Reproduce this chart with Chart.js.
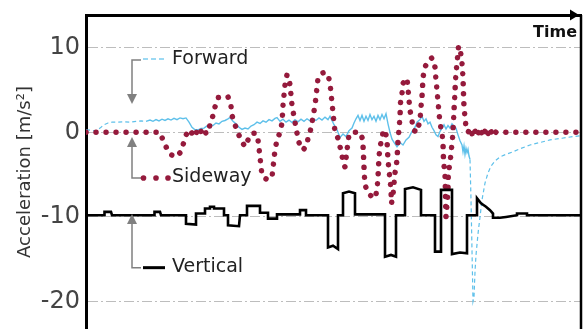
<!DOCTYPE html>
<html>
<head>
<meta charset="utf-8">
<script src="https://cdn.jsdelivr.net/npm/chart.js@4"></script>
<style>
html, body { margin: 0; padding: 0; background: #fff; }
canvas { display: block; }
</style>
</head>
<body>
<canvas id="chart" width="584" height="329" style="width:584px;height:329px"></canvas>
<script>
// Acceleration record: three channels sampled over one run (time axis in arbitrary units)
const yTickValues = [10, 0, -10, -20];

const forwardTime = [0, 5, 10, 14, 18, 22, 26, 32, 38, 44, 50, 55, 60, 64, 67, 70, 73, 76, 79, 82, 85, 88, 91, 94, 97, 100,
  103, 106, 109, 112, 115, 118, 121, 124, 127, 130, 133, 136, 139, 142, 144, 147, 150, 153, 156, 159, 162, 165, 168, 171,
  174, 177, 180, 183, 186, 189, 191, 194, 197, 200, 203, 206, 209, 212, 215, 218, 221, 224, 227, 230, 233, 236, 239, 242,
  244, 246, 248, 251, 254, 257, 260, 263, 266, 268, 270, 272, 274, 276, 278, 280, 282, 284, 286, 288, 290, 292, 294, 296,
  298, 300, 302, 304, 306, 308, 311, 314, 317, 320, 323, 326, 329, 331, 334, 336, 338, 340, 342, 344, 346, 348, 350, 352,
  354, 356, 358, 360, 362, 364, 366, 368, 370, 372, 374, 376, 377, 378, 379, 380, 381, 382, 383, 384, 385, 386, 387, 388,
  389, 390, 392, 394, 396, 399, 402, 405, 409, 414, 420, 427, 435, 444, 454, 464, 476, 487, 495];
const forwardAccel = [0.3, 0.25, 0.15, 0.5, 0.9, 1.1, 1.2, 1.2, 1.25, 1.2, 1.3, 1.35, 1.3, 1.45, 1.3, 1.5, 1.35, 1.55, 1.4, 1.6, 1.45, 1.65, 1.5, 1.7, 1.6, 1.7,
  1.2, 0.6, 0.3, 0.3, 0.45, 0.5, 0.75, 0.9, 0.8, 1.1, 1.0, 1.3, 1.4, 1.6, 1.75, 1.3, 1.0, 0.6, 0.35, 0.5, 0.4, 0.75, 0.9, 1.2,
  1.05, 1.35, 1.2, 1.5, 1.35, 1.65, 1.75, 1.3, 1.55, 1.2, 1.45, 1.15, 1.5, 1.25, 1.55, 1.3, 1.6, 1.35, 1.65, 1.4, 1.7, 1.45, 1.8, 1.5,
  1.9, 1.4, 0.9, 0.3, -0.6, -0.2, -0.5, 0.2, 0.5, 1.1, 1.6, 2.0, 1.4, 2.0, 1.3, 1.9, 1.4, 2.1, 1.5, 1.9, 1.3, 2.0, 1.5, 2.1,
  1.6, 2.2, 1.0, 0.0, -0.8, -1.2, -1.7, -1.2, -1.5, -0.9, -0.6, 0.1, 0.6, 1.2, 1.5, 1.9, 1.3, 1.6, 1.0, 1.2, 0.6, 0.2, -0.3, -0.5,
  0.1, 0.5, 0.9, 0.4, 0.8, 0.5, 1.0, 0.7, 0.5, -0.3, -1.0, -1.5, -2.3, -1.6, -2.6, -1.9, -2.4, -2.0, -2.8, -3.2, -8, -14, -20.0, -19.5,
  -16.5, -14.5, -12.0, -10.0, -8.0, -6.0, -4.8, -4.0, -3.4, -2.9, -2.6, -2.3, -1.9, -1.5, -1.2, -0.9, -0.7, -0.5, -0.4];

const sidewayTime = [0, 10, 20, 30, 40, 50, 60, 70, 74, 77, 80, 84, 90, 95, 97, 100, 102,
  103, 104, 105, 106, 107, 108, 109, 110, 111, 112, 113, 114, 115, 116, 117, 118, 119, 120, 121, 122,
  124, 127, 129, 132, 137, 142, 145, 146, 149, 152, 156, 159, 162, 166, 170, 172, 173, 174, 175, 176, 178, 182, 186, 187,
  189, 191, 194, 196, 197, 198, 199, 201, 203, 204, 205, 206, 209, 211, 212, 214, 217, 221, 222, 224, 226, 229, 230, 231,
  232, 236, 239, 242, 244, 245, 246, 247, 248, 249, 252, 254, 256, 257, 259, 261, 263, 266, 274, 276, 277, 277.5, 278,
  278.5, 279, 282, 286, 289, 291, 292, 292.5, 293, 294, 296, 297, 299, 301, 301.5, 302, 303, 304, 305, 305.5, 307, 309,
  311, 311.5, 312, 313, 314, 314.5, 316, 317, 321, 322, 323, 324, 326, 327, 331, 334, 335, 336, 336.5, 337, 339, 342, 346,
  349, 350, 351, 352, 353, 354, 356, 357, 357.3, 357.6, 359, 359.3, 359.6, 360, 361, 362, 362.3, 364, 365, 366, 367, 367.3,
  368, 368.3, 369, 369.3, 370, 371, 372, 372.5, 374, 375, 376, 377, 377.3, 377.6, 378, 379, 380, 382,
  383, 384, 385, 386, 387, 388, 389, 390, 391, 392, 393, 394, 395, 396, 397, 398, 399, 400, 401, 402, 403, 404, 405, 406,
  407, 408, 409, 410, 420, 430, 440, 450, 460, 470, 480, 490, 495];
const sidewayAccel = [0, 0, 0, 0, 0, 0, 0, 0, 0, -0.9, -1.7, -2.6, -2.9, -2.3, -1.5, -0.3, 0,
  0.12, -0.1, 0.12, -0.12, 0.1, -0.12, 0.12, -0.1, 0.12, -0.12, 0.1, -0.12, 0.12, -0.1, 0.12, -0.12, 0.1, -0.1, 0.08, 0,
  0.9, 2.0, 3.0, 4.1, 4.2, 4.2, 3.1, 2.0, 0.9, -0.1, -1.1, -1.7, -0.9, -0.1, -0.1, -0.9, -1.9, -2.9, -4.1, -5.0, -5.4, -5.6, -5.3, -4.2,
  -2.1, -0.9, 0.0, 1.1, 3.2, 4.4, 5.6, 6.8, 6.4, 5.6, 4.4, 3.2, 1.2, -0.1, -0.9, -1.5, -2.1, -1.5, -0.7, 0.0, 1.1, 3.2, 4.2, 5.3,
  6.4, 7.0, 7.1, 6.8, 5.8, 4.6, 3.5, 2.3, 1.2, 0.0, -0.7, -1.7, -2.7, -3.6, -4.1, -2.1, -0.3, 0, 0, -0.6, -1.5, -2.7, -4.1,
  -5.3, -6.2, -7.2, -7.6, -7.8, -6.8, -5.3, -4.1, -2.9, -1.7, -0.7, 0, 0.3, -0.9, -2.1, -3.3, -4.5, -5.6, -6.8, -8.4, -7.4, -4.8,
  -3.3, -2.1, -0.9, 0.3, 1.8, 3.5, 4.6, 5.8, 6.4, 5.2, 3.8, 2.6, 1.4, 0.3, 0, 1.4, 3.0, 4.2, 5.3, 6.5, 7.7, 8.5, 8.8,
  7.7, 6.2, 5.0, 3.6, 2.3, 1.1, -0.1, -1.3, -2.5, -3.6, -4.8, -6.2, -8.0, -10.0, -8.6, -6.8, -4.8, -3.6, -2.5, -1.3, -0.1, 1.1,
  2.3, 3.5, 4.6, 5.8, 7.0, 8.2, 9.4, 10.2, 10.0, 9.1, 8.2, 6.5, 5.3, 4.2, 3.0, 1.8, 0.6, 0,
  0.18, -0.16, 0.18, -0.18, 0.16, -0.18, 0.18, -0.16, 0.18, -0.18, 0.16, -0.18, 0.18, -0.16, 0.18, -0.18, 0.16, -0.18, 0.18, -0.16, 0.18, -0.18, 0.16, -0.16,
  0.14, -0.12, 0.08, 0, 0, 0, 0, 0, 0, 0, 0, 0, 0];

const verticalTime = [0, 18, 18.5, 25, 26, 68, 68.5, 74, 75, 100, 100, 110, 110, 119, 119, 124, 124, 128, 128, 138, 138, 142, 142,
  153, 154, 161, 161, 174, 174, 182, 182, 191, 191, 214, 214, 220, 220, 242, 242, 247, 252, 252, 257, 257, 263, 269, 269, 299, 299,
  305, 310, 310, 319, 319, 327, 335, 335, 349, 349, 355, 355, 366, 366, 374, 381, 381, 391, 391, 395, 400, 404, 407, 407, 414,
  420, 431, 431, 441, 441, 495];
const verticalAccel = [-9.8, -9.8, -9.4, -9.4, -9.8, -9.8, -9.4, -9.4, -9.8, -9.8, -10.8, -10.9, -9.6, -9.6, -9.0, -9.0, -8.8, -8.8, -9.0, -9.0, -9.8, -9.8, -11.0,
  -11.1, -9.8, -9.8, -8.7, -8.7, -9.5, -9.5, -10.2, -10.2, -9.7, -9.7, -9.2, -9.2, -9.8, -9.8, -13.6, -13.4, -13.8, -9.8, -9.8, -7.2, -7.0, -7.2, -9.7, -9.7, -14.7,
  -14.5, -14.7, -9.8, -9.8, -6.7, -6.5, -6.8, -9.8, -9.8, -14.1, -14.1, -6.8, -6.8, -14.4, -14.2, -14.3, -9.8, -9.8, -7.8, -8.4, -8.8, -9.2, -9.6, -10.1, -10.1,
  -10.0, -9.8, -9.6, -9.6, -9.8, -9.8];

// Key entries drawn beside the left axis (values in data units)
const keyItems = [
  { label: 'Forward', dir: 'down', elbow: 8.55, tip: 3.35, sample: 'dash' },
  { label: 'Sideway', dir: 'up', elbow: -5.4, tip: -0.56, sample: 'dots' },
  { label: 'Vertical', dir: 'up', elbow: -16.0, tip: -9.66, sample: 'line' }
];
const keyTime = 46;

const toPoints = (xs, ys) => xs.map((x, i) => ({ x, y: ys[i] }));

const FONT = '"DejaVu Sans", "Liberation Sans", sans-serif';
const FORWARD_COLOR = '#5ec0ea';
const SIDEWAY_COLOR = '#951a3c';

const frameAndKey = {
  id: 'frameAndKey',
  afterDraw(chart) {
    const { ctx, chartArea: a, scales: { x, y } } = chart;
    ctx.save();

    // right edge of the frame
    ctx.strokeStyle = '#000';
    ctx.lineWidth = 2.5;
    ctx.beginPath();
    ctx.moveTo(a.right, a.top);
    ctx.lineTo(a.right, a.bottom);
    ctx.stroke();

    // arrowhead closing the time axis
    ctx.fillStyle = '#000';
    ctx.beginPath();
    ctx.moveTo(a.right - 2, a.top);
    ctx.lineTo(a.right - 11, a.top - 5.5);
    ctx.lineTo(a.right - 11, a.top + 5.5);
    ctx.closePath();
    ctx.fill();

    ctx.font = 'bold 16px ' + FONT;
    ctx.textAlign = 'right';
    ctx.textBaseline = 'middle';
    ctx.fillStyle = '#111';
    ctx.fillText('Time', a.right - 4, a.top + 18);

    // channel key with pointer arrows
    const xa = x.getPixelForValue(keyTime);
    keyItems.forEach(item => {
      const ye = y.getPixelForValue(item.elbow);
      const yt = y.getPixelForValue(item.tip);
      const head = 10;
      const base = item.dir === 'down' ? yt - head : yt + head;

      ctx.strokeStyle = '#808080';
      ctx.fillStyle = '#808080';
      ctx.lineWidth = 1.5;
      ctx.setLineDash([]);
      ctx.beginPath();
      ctx.moveTo(xa + 9, ye);
      ctx.lineTo(xa, ye);
      ctx.lineTo(xa, base);
      ctx.stroke();
      ctx.beginPath();
      ctx.moveTo(xa, yt);
      ctx.lineTo(xa - 5, base);
      ctx.lineTo(xa + 5, base);
      ctx.closePath();
      ctx.fill();

      if (item.sample === 'dash') {
        ctx.strokeStyle = '#7ccdf0';
        ctx.lineWidth = 1.3;
        ctx.setLineDash([5, 3]);
        ctx.beginPath();
        ctx.moveTo(xa + 11, ye - 1);
        ctx.lineTo(xa + 34, ye - 1);
        ctx.stroke();
        ctx.setLineDash([]);
      } else if (item.sample === 'dots') {
        ctx.fillStyle = SIDEWAY_COLOR;
        [11.5, 24, 36].forEach(dx => {
          ctx.beginPath();
          ctx.arc(xa + dx, ye, 2.8, 0, Math.PI * 2);
          ctx.fill();
        });
      } else {
        ctx.strokeStyle = '#000';
        ctx.lineWidth = 3;
        ctx.beginPath();
        ctx.moveTo(xa + 11, ye);
        ctx.lineTo(xa + 33, ye);
        ctx.stroke();
      }

      ctx.font = '19px ' + FONT;
      ctx.textAlign = 'left';
      ctx.textBaseline = 'middle';
      ctx.fillStyle = '#222';
      ctx.fillText(item.label, xa + 40, ye - 1);
    });
    ctx.restore();
  }
};

new Chart(document.getElementById('chart'), {
  type: 'line',
  data: {
    datasets: [
      {
        label: 'Vertical',
        data: toPoints(verticalTime, verticalAccel),
        borderColor: '#000',
        borderWidth: 2.6,
        pointRadius: 0,
        order: 1
      },
      {
        label: 'Sideway',
        data: toPoints(sidewayTime, sidewayAccel),
        borderColor: SIDEWAY_COLOR,
        borderWidth: 5.5,
        borderDash: [0.01, 10],
        borderCapStyle: 'round',
        pointRadius: 0,
        order: 2
      },
      {
        label: 'Forward',
        data: toPoints(forwardTime, forwardAccel),
        borderColor: FORWARD_COLOR,
        borderWidth: 1.4,
        pointRadius: 0,
        order: 3,
        segment: {
          borderDash: c => (c.p0.parsed.x < 60 || c.p0.parsed.x >= 384) ? [4, 3] : undefined,
          borderWidth: c => (c.p0.parsed.x < 60 || c.p0.parsed.x >= 384) ? 1.2 : undefined
        }
      }
    ]
  },
  options: {
    responsive: false,
    devicePixelRatio: 1,
    animation: false,
    layout: { padding: { left: 0, top: 0, right: 3, bottom: 0 } },
    plugins: { legend: { display: false }, tooltip: { enabled: false } },
    scales: {
      x: {
        type: 'linear',
        position: 'top',
        min: 0,
        max: 495,
        ticks: { display: false },
        grid: { display: false, drawTicks: false },
        border: { display: true, color: '#000', width: 3 },
        afterFit: s => { s.height = 15; s.paddingLeft = 0; s.paddingRight = 0; }
      },
      y: {
        type: 'linear',
        min: -23.25,
        max: 13.87,
        afterBuildTicks: s => { s.ticks = yTickValues.map(v => ({ value: v })); },
        afterFit: s => { s.width = 86; s.paddingTop = 0; s.paddingBottom = 0; },
        ticks: {
          padding: 6,
          color: '#444',
          font: { family: FONT, size: 24 }
        },
        grid: { color: '#bdbdbd', lineWidth: 1, drawTicks: false },
        border: { display: true, color: '#000', width: 3, dash: [10, 3, 2, 3] },
        title: {
          display: true,
          text: 'Acceleration [m/s²]',
          color: '#333',
          font: { family: FONT, size: 18 },
          padding: { top: 15, bottom: 0 }
        }
      }
    }
  },
  plugins: [frameAndKey]
});
</script>
</body>
</html>
